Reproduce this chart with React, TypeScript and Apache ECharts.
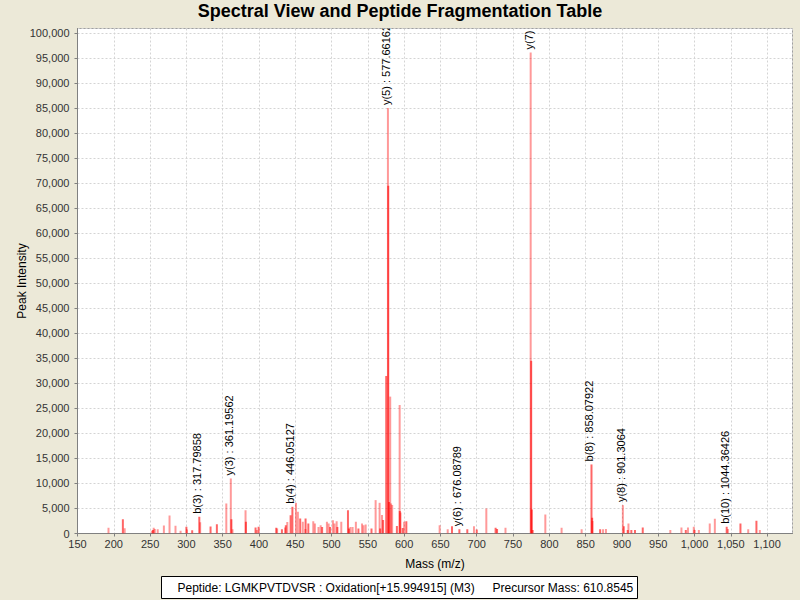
import React, { useEffect, useRef } from "react";
import * as echarts from "echarts";

const titleText = "Spectral View and Peptide Fragmentation Table";
const xTitle = "Mass (m/z)";
const yTitle = "Peak Intensity";
const peptideText = "Peptide: LGMKPVTDVSR : Oxidation[+15.994915] (M3)";
const precursorText = "Precursor Mass: 610.8545";

// light (pink) peaks: [m/z, intensity]
const lightPeaks: [number, number][] = [
  [192.7, 1130], [215.0, 1070], [252.4, 530], [255.0, 1130], [256.5, 900],
  [260.5, 870], [269.0, 1600], [276.8, 3600], [285.0, 1530], [292.0, 530],
  [300.8, 800], [319.0, 2270], [355.0, 6000], [361.2, 11000], [363.5, 870],
  [381.5, 4670], [397.0, 700], [425.0, 1000], [436.0, 1200], [439.0, 2300],
  [451.0, 6130], [453.6, 4330], [460.4, 2330], [464.0, 900], [474.8, 2470],
  [477.0, 2000], [482.0, 1300], [485.0, 1670], [493.6, 2330], [496.0, 2000],
  [501.9, 2670], [504.0, 2000], [507.0, 2470], [513.4, 2330], [526.0, 1300],
  [529.0, 1300], [533.5, 2330], [542.0, 2000], [544.0, 1670], [547.0, 1800],
  [560.7, 6670], [566.2, 6130], [569.5, 3700], [577.66, 85000], [580.8, 27350],
  [582.0, 6000], [583.5, 5700], [593.8, 25680], [595.0, 4200], [600.0, 2330],
  [648.9, 1670], [660.0, 870], [696.2, 1470], [713.2, 5000], [739.6, 1130],
  [774.3, 96100], [794.5, 3800], [816.9, 1130], [844.5, 870], [859.5, 2500],
  [874.0, 870], [878.0, 900], [901.31, 5670], [909.0, 2000], [966.7, 700],
  [982.0, 1200], [991.0, 1200], [999.0, 1330], [1006.0, 700], [1021.0, 2000],
  [1028.0, 2930], [1046.0, 900], [1074.0, 870], [1090.0, 700],
];

// strong (red) peaks: [m/z, intensity]
const strongPeaks: [number, number][] = [
  [212.5, 2870], [254.0, 700], [300.0, 1330], [308.0, 670], [317.8, 3330],
  [333.3, 1400], [342.0, 1870], [362.0, 2870], [382.0, 2330], [395.3, 1200],
  [399.5, 1330], [423.8, 1130], [431.6, 870], [437.0, 1670], [443.6, 3670],
  [446.05, 5330], [456.8, 3000], [464.2, 3000], [468.0, 2000], [487.0, 1300],
  [498.0, 1300], [508.0, 1300], [522.6, 4670], [524.0, 1000], [537.0, 1000],
  [555.0, 1000], [567.0, 1000], [571.0, 2700], [575.3, 31470], [578.1, 69500],
  [579.2, 6300], [590.0, 1500], [594.0, 4500], [598.0, 1100], [603.0, 2470],
  [665.9, 1470], [676.09, 870], [687.0, 870], [700.0, 800], [726.0, 1130],
  [728.0, 900], [775.0, 34500], [775.8, 4800], [777.0, 700], [858.08, 13800],
  [859.0, 3130], [870.0, 870], [902.5, 1470], [908.0, 700], [913.0, 700],
  [918.0, 700], [928.7, 1200], [988.0, 700], [1000.0, 700], [1044.36, 1330],
  [1063.3, 2000], [1085.3, 2530],
];

// fragment annotations
const annMass = [317.8, 361.2, 446.05, 577.66, 676.09, 774.3, 858.08, 901.31, 1044.36];
const annIntensity = [3330, 11000, 5330, 85000, 870, 96100, 13800, 5670, 1330];
const annLabels = [
  "b(3) : 317.79858",
  "y(3) : 361.19562",
  "b(4) : 446.05127",
  "y(5) : 577.66162",
  "y(6) : 676.08789",
  "y(7) : 773.99541",
  "b(8) : 858.07922",
  "y(8) : 901.3064",
  "b(10) : 1044.36426",
];

const FONT = "'Liberation Sans', Arial, sans-serif";

function barRenderer(color: string) {
  return (params: any, api: any) => {
    const x = api.value(0);
    const y = api.value(1);
    const p0 = api.coord([x, 0]);
    const p1 = api.coord([x, y]);
    return {
      type: "rect",
      shape: { x: p0[0] - 1, y: p1[1], width: 2, height: p0[1] - p1[1] },
      style: { fill: color },
    };
  };
}

export default function App() {
  const ref = useRef<HTMLDivElement>(null);
  useEffect(() => {
    document.body.style.margin = "0";
    const chart = echarts.init(ref.current!, null, { renderer: "svg" });
    const fmt = (v: number) => v.toLocaleString("en-US");
    chart.setOption({
      animation: false,
      backgroundColor: "#ECE9D8",
      title: {
        text: titleText,
        left: "center",
        top: 2,
        padding: 0,
        textStyle: { fontFamily: FONT, fontSize: 18, fontWeight: "bold", color: "#000" },
      },
      grid: {
        left: 77.5,
        right: 7.5,
        top: 28.5,
        bottom: 66.5,
        containLabel: false,
        outerBoundsMode: "none",
        show: true,
        backgroundColor: "#ffffff",
        borderColor: "#a0a0a0",
        borderWidth: 1,
      },
      xAxis: {
        type: "value",
        min: 150,
        max: 1135,
        interval: 50,
        name: xTitle,
        nameLocation: "middle",
        nameGap: 24,
        nameMoveOverlap: false,
        nameTextStyle: { fontFamily: FONT, fontSize: 12, color: "#000" },
        axisLine: { show: true, lineStyle: { color: "#808080" } },
        axisTick: { show: true, length: 3, lineStyle: { color: "#808080" } },
        axisLabel: {
          fontFamily: FONT,
          fontSize: 11,
          color: "#333",
          margin: 5,
          showMaxLabel: false,
          formatter: fmt,
        },
        splitLine: { show: true, lineStyle: { color: "#d4d4d4", type: [2, 2] } },
      },
      yAxis: {
        type: "value",
        min: 0,
        max: 100900,
        interval: 5000,
        name: yTitle,
        nameLocation: "middle",
        nameGap: 50,
        nameMoveOverlap: false,
        nameTextStyle: { fontFamily: FONT, fontSize: 12, color: "#000" },
        axisLine: { show: true, lineStyle: { color: "#808080" } },
        axisTick: { show: true, length: 3, lineStyle: { color: "#808080" } },
        axisLabel: {
          fontFamily: FONT,
          fontSize: 11,
          color: "#333",
          margin: 8,
          showMaxLabel: false,
          formatter: fmt,
        },
        splitLine: { show: true, lineStyle: { color: "#d4d4d4", type: [2, 2] } },
      },
      series: [
        {
          type: "custom",
          name: "light",
          clip: true,
          renderItem: barRenderer("rgba(255,0,0,0.4)"),
          encode: { x: 0, y: 1 },
          data: lightPeaks,
          silent: true,
        },
        {
          type: "custom",
          name: "strong",
          clip: true,
          renderItem: barRenderer("rgba(255,0,0,0.6)"),
          encode: { x: 0, y: 1 },
          data: strongPeaks,
          silent: true,
        },
        {
          type: "custom",
          name: "annotations",
          clip: true,
          encode: { x: 0, y: 1 },
          data: annMass.map((m, i) => [m, annIntensity[i]]),
          renderItem: (params: any, api: any) => {
            const p = api.coord([api.value(0), api.value(1)]);
            return {
              type: "text",
              x: p[0] - 2,
              y: p[1] - 3,
              rotation: Math.PI / 2,
              style: {
                text: annLabels[params.dataIndex],
                fontFamily: FONT,
                fontSize: 11,
                fill: "#000",
                align: "left",
                verticalAlign: "middle",
              },
            };
          },
          silent: true,
        },
      ],
      graphic: [
        {
          type: "group",
          left: 161,
          top: 576,
          children: [
            {
              type: "rect",
              shape: { x: 0, y: 0, width: 476, height: 22 },
              style: { fill: "#ffffff", stroke: "#000", lineWidth: 1 },
            },
            {
              type: "text",
              x: 16,
              y: 11,
              style: {
                text: peptideText,
                fontFamily: FONT,
                fontSize: 12,
                fill: "#000",
                verticalAlign: "middle",
              },
            },
            {
              type: "text",
              x: 331,
              y: 11,
              style: {
                text: precursorText,
                fontFamily: FONT,
                fontSize: 12,
                fill: "#000",
                verticalAlign: "middle",
              },
            },
          ],
        },
      ],
    });
    return () => chart.dispose();
  }, []);
  return <div ref={ref} style={{ width: 800, height: 600 }} />;
}
